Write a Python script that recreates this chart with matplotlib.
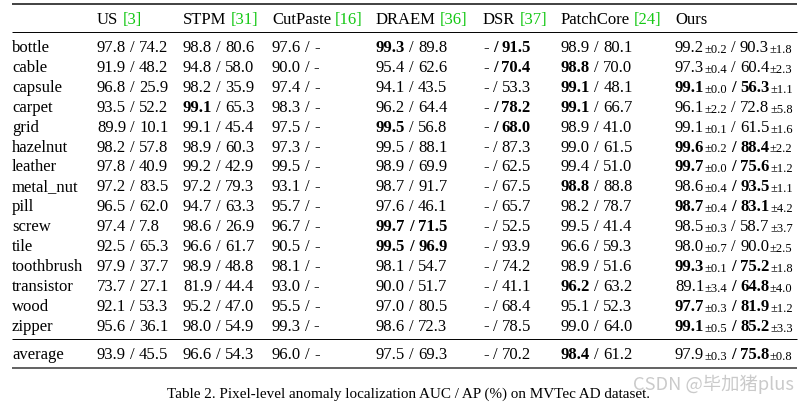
import matplotlib
matplotlib.use('Agg')
import matplotlib.pyplot as plt

# Table data (pixel-level AUC / AP on MVTec AD)
categories = ['bottle', 'cable', 'capsule', 'carpet', 'grid', 'hazelnut', 'leather',
              'metal_nut', 'pill', 'screw', 'tile', 'toothbrush', 'transistor',
              'wood', 'zipper', 'average']
methods = ['US', 'STPM', 'CutPaste', 'DRAEM', 'DSR', 'PatchCore', 'Ours']
refs = ['3', '31', '16', '36', '37', '24', None]

us_auc = [97.8, 91.9, 96.8, 93.5, 89.9, 98.2, 97.8, 97.2, 96.5, 97.4, 92.5, 97.9, 73.7, 92.1, 95.6, 93.9]
us_ap = [74.2, 48.2, 25.9, 52.2, 10.1, 57.8, 40.9, 83.5, 62.0, 7.8, 65.3, 37.7, 27.1, 53.3, 36.1, 45.5]
stpm_auc = [98.8, 94.8, 98.2, 99.1, 99.1, 98.9, 99.2, 97.2, 94.7, 98.6, 96.6, 98.9, 81.9, 95.2, 98.0, 96.6]
stpm_ap = [80.6, 58.0, 35.9, 65.3, 45.4, 60.3, 42.9, 79.3, 63.3, 26.9, 61.7, 48.8, 44.4, 47.0, 54.9, 54.3]
cutpaste_auc = [97.6, 90.0, 97.4, 98.3, 97.5, 97.3, 99.5, 93.1, 95.7, 96.7, 90.5, 98.1, 93.0, 95.5, 99.3, 96.0]
cutpaste_ap = [None] * 16
draem_auc = [99.3, 95.4, 94.1, 96.2, 99.5, 99.5, 98.9, 98.7, 97.6, 99.7, 99.5, 98.1, 90.0, 97.0, 98.6, 97.5]
draem_ap = [89.8, 62.6, 43.5, 64.4, 56.8, 88.1, 69.9, 91.7, 46.1, 71.5, 96.9, 54.7, 51.7, 80.5, 72.3, 69.3]
dsr_auc = [None] * 16
dsr_ap = [91.5, 70.4, 53.3, 78.2, 68.0, 87.3, 62.5, 67.5, 65.7, 52.5, 93.9, 74.2, 41.1, 68.4, 78.5, 70.2]
patchcore_auc = [98.9, 98.8, 99.1, 99.1, 98.9, 99.0, 99.4, 98.8, 98.2, 99.5, 96.6, 98.9, 96.2, 95.1, 99.0, 98.4]
patchcore_ap = [80.1, 70.0, 48.1, 66.7, 41.0, 61.5, 51.0, 88.8, 78.7, 41.4, 59.3, 51.6, 63.2, 52.3, 64.0, 61.2]
ours_auc = [99.2, 97.3, 99.1, 96.1, 99.1, 99.6, 99.7, 98.6, 98.7, 98.5, 98.0, 99.3, 89.1, 97.7, 99.1, 97.9]
ours_auc_std = [0.2, 0.4, 0.0, 2.2, 0.1, 0.2, 0.0, 0.4, 0.4, 0.3, 0.7, 0.1, 3.4, 0.3, 0.5, 0.3]
ours_ap = [90.3, 60.4, 56.3, 72.8, 61.5, 88.4, 75.6, 93.5, 83.1, 58.7, 90.0, 75.2, 64.8, 81.9, 85.2, 75.8]
ours_ap_std = [1.8, 2.3, 1.1, 5.8, 1.6, 2.2, 1.2, 1.1, 4.2, 3.7, 2.5, 1.8, 4.0, 1.2, 3.3, 0.8]

# indices of bold entries
stpm_auc_bold = [3]
draem_auc_bold = [0, 4, 9, 10]
draem_ap_bold = [9, 10]
dsr_ap_bold = [0, 1, 3, 4]
patchcore_auc_bold = [1, 2, 3, 7, 12, 15]
ours_auc_bold = [2, 5, 6, 8, 11, 13, 14]
ours_ap_bold = [2, 5, 6, 7, 8, 11, 12, 13, 14, 15]

caption = 'Table 2. Pixel-level anomaly localization AUC / AP (%) on MVTec AD dataset.'

SERIF = 'Liberation Serif'
GREEN = '#14c814'

fig = plt.figure(figsize=(8.09, 4.04), dpi=100)
ax = fig.add_axes([0, 0, 1, 1])
ax.set_xlim(0, 809)
ax.set_ylim(404, 0)
ax.axis('off')
renderer = fig.canvas.get_renderer()


def put(x, y, s, bold=False, size=12, color='black'):
    t = ax.text(x, y, s, fontsize=size, fontweight='bold' if bold else 'normal',
                color=color, family=SERIF, va='baseline', ha='left')
    return x + t.get_window_extent(renderer).width


def width_of(s, size=12, bold=False):
    t = ax.text(0, 0, s, fontsize=size, family=SERIF,
                fontweight='bold' if bold else 'normal')
    w = t.get_window_extent(renderer).width
    t.remove()
    return w


space = width_of('0 0') - width_of('00')


def fmt(v):
    return '-' if v is None else f'{v:.1f}'


def cell(x, y, auc, ap, b_auc, b_ap, auc_std=None, ap_std=None):
    x = put(x, y, fmt(auc), bold=b_auc)
    if auc_std is not None:
        x = put(x + 0.5, y + 1, f'\u00b1{auc_std:.1f}', size=9)
    x += space
    x = put(x, y, '/', bold=b_ap)
    x += space
    x = put(x, y, fmt(ap), bold=b_ap)
    if ap_std is not None:
        put(x + 0.5, y + 1, f'\u00b1{ap_std:.1f}', size=9)


col_x = [97, 183, 272, 376, 483, 561, 675]
name_x = 12
header_y = 23.5
row_y = [52 + 19.9 * i for i in range(15)] + [359]

# rules
ax.plot([12, 797], [3.5, 3.5], color='#333333', lw=1.3, solid_capstyle='butt')
ax.plot([12, 797], [32.3, 32.3], color='black', lw=0.7, solid_capstyle='butt')
ax.plot([12, 797], [339.3, 339.3], color='black', lw=0.7, solid_capstyle='butt')
ax.plot([12, 797], [367.7, 367.7], color='#555555', lw=1.3, solid_capstyle='butt')

# header
for m, r, cx in zip(methods, refs, col_x):
    x = put(cx, header_y, m)
    if r is not None:
        put(x + space, header_y, f'[{r}]', color=GREEN)

columns = [
    (us_auc, us_ap, [], [], None, None),
    (stpm_auc, stpm_ap, stpm_auc_bold, [], None, None),
    (cutpaste_auc, cutpaste_ap, [], [], None, None),
    (draem_auc, draem_ap, draem_auc_bold, draem_ap_bold, None, None),
    (dsr_auc, dsr_ap, [], dsr_ap_bold, None, None),
    (patchcore_auc, patchcore_ap, patchcore_auc_bold, [], None, None),
    (ours_auc, ours_ap, ours_auc_bold, ours_ap_bold, ours_auc_std, ours_ap_std),
]

for i, (name, y) in enumerate(zip(categories, row_y)):
    put(name_x, y, name)
    for (auc, ap, bauc, bap, sauc, sap), cx in zip(columns, col_x):
        cell(cx, y, auc[i], ap[i], i in bauc, i in bap,
             None if sauc is None else sauc[i], None if sap is None else sap[i])

ax.text(409, 398, caption, fontsize=10.9, family=SERIF, ha='center', va='baseline')

ax.text(794, 390, 'CSDN @毕加猪plus', fontsize=13.2, ha='right', va='baseline',
        family=['Noto Sans CJK SC', 'DejaVu Sans'], color='#a8a8a8', alpha=0.6)

fig.savefig('out.png', dpi=100)
